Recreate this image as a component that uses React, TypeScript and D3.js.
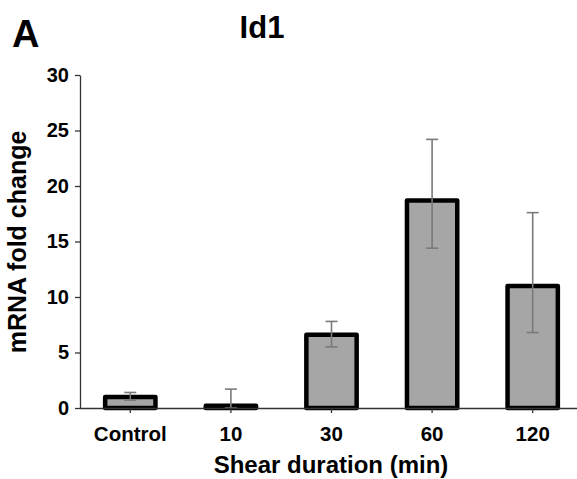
import { useEffect, useRef } from 'react';
import * as d3 from 'd3';

const categories = ['Control', '10', '30', '60', '120'];
const values = [1.0, 0.2, 6.6, 18.7, 11.0];
const errUpper = [1.4, 1.7, 7.8, 24.2, 17.6];
const errLower = [0.7, 0.0, 5.5, 14.4, 6.8];
const yTicks = [0, 5, 10, 15, 20, 25, 30];

const W = 577,
	H = 479;

const App = () => {
	const ref = useRef<SVGSVGElement>(null);

	useEffect(() => {
		const svg = d3.select(ref.current);
		svg.selectAll('*').remove();
		const font = 'Arial, "Liberation Sans", sans-serif';

		const x = d3.scaleBand().domain(categories).range([80, 583]).paddingInner(0.5).paddingOuter(0.25);
		const y = d3.scaleLinear().domain([0, 30]).range([408, 75]);

		// bars
		svg
			.append('g')
			.selectAll('rect')
			.data(categories)
			.join('rect')
			.attr('x', (d) => x(d)!)
			.attr('y', (d, i) => y(values[i]))
			.attr('width', x.bandwidth())
			.attr('height', (d, i) => y(0) - y(values[i]))
			.attr('fill', '#a6a6a6')
			.attr('stroke', '#000')
			.attr('stroke-width', 4.5)
			.attr('stroke-linejoin', 'round');

		// error bars
		const eb = svg.append('g').attr('stroke', '#7a7a7a').attr('stroke-width', 1.6);
		categories.forEach((c, i) => {
			const cx = x(c)! + x.bandwidth() / 2;
			eb.append('line').attr('x1', cx).attr('x2', cx).attr('y1', y(errLower[i])).attr('y2', y(errUpper[i]));
			[errLower[i], errUpper[i]].forEach((v) => {
				eb.append('line').attr('x1', cx - 6).attr('x2', cx + 6).attr('y1', y(v)).attr('y2', y(v));
			});
		});

		// y axis
		const yAxis = svg
			.append('g')
			.attr('transform', 'translate(80,0)')
			.call(d3.axisLeft(y).tickValues(yTicks).tickSize(5).tickSizeOuter(0).tickPadding(6));
		yAxis.selectAll('path, line').attr('stroke', '#333').attr('stroke-width', 1.3);
		yAxis.selectAll('text').attr('font-family', font).attr('font-size', 20).attr('font-weight', 'bold').attr('fill', '#000');

		// x axis
		const xAxis = svg
			.append('g')
			.attr('transform', 'translate(0,408)')
			.call(d3.axisBottom(x).tickSize(5).tickSizeOuter(0).tickPadding(13));
		xAxis.select('.domain').attr('d', 'M80,0.5H577');
		xAxis.selectAll('path, line').attr('stroke', '#333').attr('stroke-width', 1.3);
		xAxis.selectAll('text').attr('font-family', font).attr('font-size', 20.5).attr('font-weight', 'bold').attr('fill', '#000');

		// titles
		svg
			.append('text')
			.attr('x', 262)
			.attr('y', 38)
			.attr('text-anchor', 'middle')
			.attr('font-family', font)
			.attr('font-size', 31)
			.attr('font-weight', 'bold')
			.text('Id1');
		svg
			.append('text')
			.attr('x', 12)
			.attr('y', 47)
			.attr('font-family', font)
			.attr('font-size', 38)
			.attr('font-weight', 'bold')
			.text('A');
		svg
			.append('text')
			.attr('x', 331)
			.attr('y', 473)
			.attr('text-anchor', 'middle')
			.attr('font-family', font)
			.attr('font-size', 24)
			.attr('font-weight', 'bold')
			.text('Shear duration (min)');
		svg
			.append('text')
			.attr('transform', 'translate(26,242) rotate(-90)')
			.attr('text-anchor', 'middle')
			.attr('font-family', font)
			.attr('font-size', 25)
			.attr('font-weight', 'bold')
			.text('mRNA fold change');
	}, []);

	return <svg ref={ref} width={W} height={H} style={{ position: 'absolute', left: 0, top: 0, background: '#fff' }} />;
};

export default App;
